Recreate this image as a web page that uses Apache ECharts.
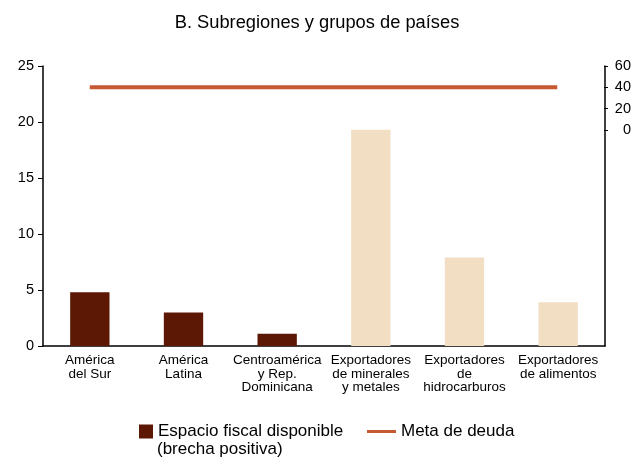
<!DOCTYPE html>
<html>
<head>
<meta charset="utf-8">
<script src="https://cdn.jsdelivr.net/npm/echarts@6/dist/echarts.min.js"></script>
<style>
  html, body { margin: 0; padding: 0; background: #fff; }
  #chart { width: 634px; height: 457px; }
</style>
</head>
<body>
<div id="chart"></div>
<script>
// datos
var categorias = ['América\ndel Sur', 'América\nLatina', 'Centroamérica\ny Rep.\nDominicana',
  'Exportadores\nde minerales\ny metales', 'Exportadores\nde\nhidrocarburos', 'Exportadores\nde alimentos'];
var espacioFiscal = [4.8, 3.0, 1.1, 19.3, 7.9, 3.9];
var grupo = ['region', 'region', 'region', 'export', 'export', 'export'];
var metaDeuda = [40, 40, 40, 40, 40, 40];

var oscuro = '#5c1804';
var claro = '#f2dec3';
var naranja = '#c55a32';
var fuente = 'Liberation Sans, Arial, sans-serif';

var chart = echarts.init(document.getElementById('chart'));
var option = {
  animation: false,
  textStyle: { fontFamily: fuente },
  title: {
    text: 'B. Subregiones y grupos de países',
    left: 'center', top: 9,
    textStyle: { fontSize: 18.3, fontWeight: 'normal', color: '#000', fontFamily: fuente }
  },
  legend: [{
    data: [{ name: 'Espacio fiscal disponible', icon: 'rect', itemStyle: { color: oscuro } }],
    left: 139, top: 423, padding: 0,
    itemWidth: 14, itemHeight: 14,
    textStyle: { fontSize: 17, color: '#000' }
  }, {
    data: [{ name: 'Meta de deuda', icon: 'rect' }],
    left: 367, top: 423, padding: 0,
    itemWidth: 29, itemHeight: 3,
    textStyle: { fontSize: 17, color: '#000' }
  }],
  graphic: [{
    type: 'text', left: 157, top: 441,
    style: { text: '(brecha positiva)', fontSize: 17, fill: '#000', fontFamily: fuente }
  }],
  grid: [
    { left: 43, right: 29, top: 66, bottom: 111 },
    { left: 43, right: 29, top: 66, height: 64 }
  ],
  xAxis: [{
    type: 'category', gridIndex: 0, data: categorias,
    axisLine: { lineStyle: { color: '#000', width: 1.5 } },
    axisTick: { show: false },
    axisLabel: { interval: 0, color: '#000', fontSize: 13.5, lineHeight: 13.5, margin: 8 }
  }, {
    type: 'category', gridIndex: 1, data: categorias, show: false
  }],
  yAxis: [{
    type: 'value', gridIndex: 0, min: 0, max: 25, interval: 5,
    axisLine: { show: true, lineStyle: { color: '#000', width: 1.5 } },
    axisTick: { show: true, length: 5, lineStyle: { color: '#000' } },
    axisLabel: { color: '#000', fontSize: 14.5, margin: 9 },
    splitLine: { show: false }
  }, {
    type: 'value', gridIndex: 0, position: 'right', min: 0, max: 25,
    axisLine: { show: true, lineStyle: { color: '#000', width: 1.5 } },
    axisTick: { show: false }, axisLabel: { show: false }, splitLine: { show: false }
  }, {
    type: 'value', gridIndex: 1, position: 'right', min: 0, max: 60, interval: 20,
    axisLine: { show: false },
    axisTick: { show: true, length: 4, lineStyle: { color: '#000' } },
    axisLabel: { color: '#000', fontSize: 14.5, margin: 27, align: 'right' },
    splitLine: { show: false }
  }],
  series: [{
    name: 'Espacio fiscal disponible',
    type: 'bar', xAxisIndex: 0, yAxisIndex: 0,
    data: espacioFiscal,
    barWidth: '42%',
    itemStyle: {
      color: function (p) { return grupo[p.dataIndex] === 'region' ? oscuro : claro; }
    }
  }, {
    name: 'Meta de deuda',
    type: 'line', xAxisIndex: 1, yAxisIndex: 2,
    data: metaDeuda,
    symbol: 'none',
    lineStyle: { color: naranja, width: 4 },
    itemStyle: { color: naranja }
  }]
};
chart.setOption(option);
</script>
</body>
</html>
